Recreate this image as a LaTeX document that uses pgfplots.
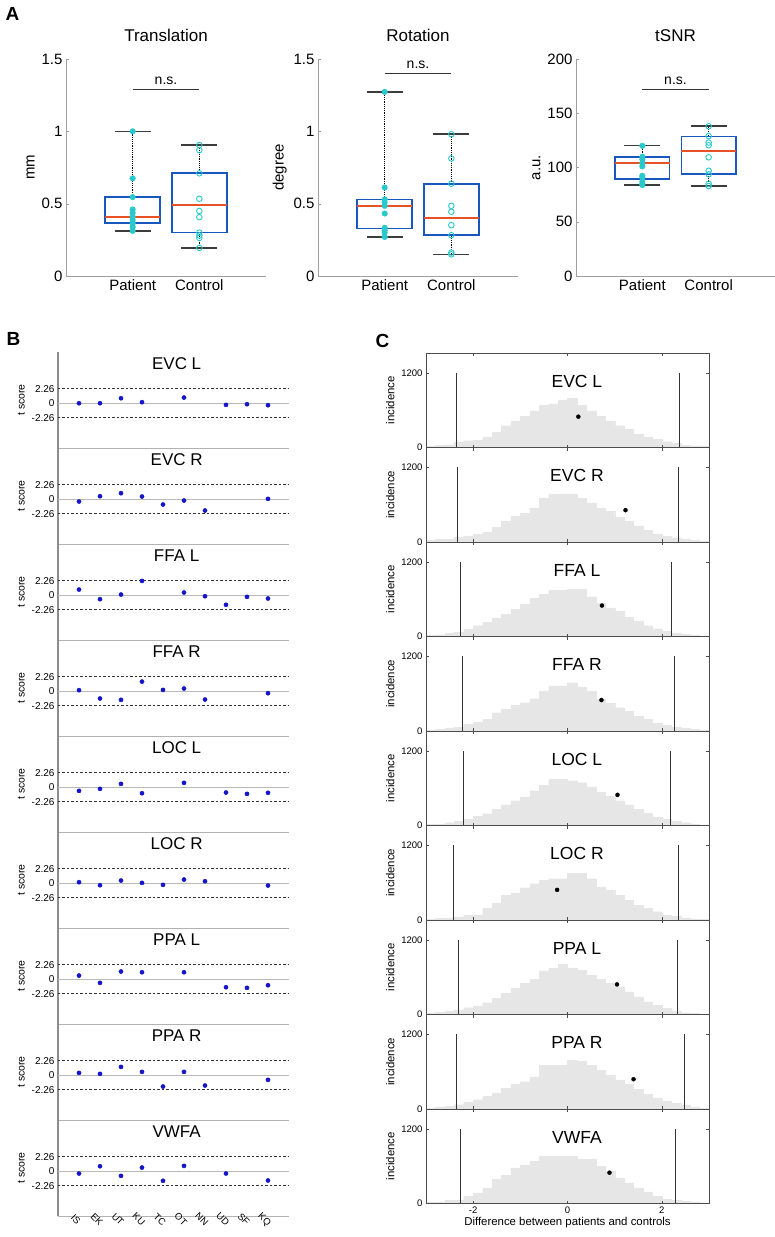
\documentclass[border=0pt]{standalone}
\usepackage{fontspec}
\setmainfont{Liberation Sans}
\usepackage{pgfplots}
\usepackage{pgfplotstable}
\pgfplotsset{compat=1.18}

\definecolor{boxblue}{RGB}{24,88,190}
\definecolor{medred}{RGB}{232,80,40}
\definecolor{dotcyan}{RGB}{40,200,205}
\definecolor{ptblue}{RGB}{20,20,200}
\definecolor{histgray}{RGB}{230,230,230}
\definecolor{capgray}{RGB}{60,60,60}

% permutation histograms, bins of 0.2 from -3 to 3 (last row repeats)
\pgfplotstableread{
x    evcl evcr ffal ffar locl locr ppal ppar vwfa
-3.0 20   25   15   20   15   15   20   15   15
-2.8 35   40   30   30   25   25   35   25   25
-2.6 45   50   50   50   45   35   55   45   50
-2.4 90   80   70   60   65   50   75   70   60
-2.2 110  100  120  110  100  80   110  110  118
-2.0 120  120  175  140  150  80   140  150  170
-1.8 170  160  230  190  190  185  190  200  250
-1.6 240  240  300  295  260  265  260  260  385
-1.4 350  340  355  350  330  400  340  330  450
-1.2 430  410  435  420  400  437  420  400  573
-1.0 500  470  515  455  460  520  500  440  620
-0.8 590  550  620  520  560  585  565  515  680
-0.6 680  710  675  643  650  640  700  705  760
-0.4 700  765  745  725  740  665  740  705  760
-0.2 765  775  745  725  740  665  812  705  760
0.0  790  775  755  777  720  747  750  785  760
0.2  680  700  755  700  690  747  715  770  718
0.4  590  630  640  643  620  665  635  700  718
0.6  500  550  540  510  530  533  565  620  600
0.8  420  490  460  445  470  480  510  545  520
1.0  350  395  405  375  400  400  445  470  413
1.2  290  340  315  320  330  320  365  400  332
1.4  220  260  245  240  260  240  285  320  250
1.6  170  185  175  190  200  185  205  240  188
1.8  130  130  125  125  140  133  150  180  118
2.0  95   90   85   90   100  80   97   130  75
2.2  70   60   60   65   70   55   60   90   50
2.4  40   50   40   45   45   35   30   55   32
2.6  25   30   20   25   25   20   18   30   25
2.8  15   20   8    15   12   10   10   15   10
3.0  15   20   8    15   12   10   10   15   10
}\histtab

\pgfplotsset{
  bpwhisk/.style={black, densely dotted, line width=1.2pt},
  bpcap/.style={capgray, line width=1.6pt},
  bpbox/.style={boxblue, line width=1.7pt, line join=miter},
  bpmed/.style={medred, line width=1.7pt},
  pdot/.style={only marks, mark=*, mark size=2.8pt, draw=dotcyan, fill=dotcyan},
  cdot/.style={only marks, mark=o, mark size=2.8pt, mark options={line width=0.9pt}, draw=dotcyan},
  Aax/.style={anchor=south west, scale only axis, width=200pt, height=217pt,
    xmin=0, xmax=3, ymin=0,
    axis x line=bottom, axis y line=left,
    axis line style={-, draw=gray!75, line width=0.7pt},
    xtick={1,2}, xticklabels={Patient,Control}, xtick style={draw=none},
    ytick style={draw=gray!75}, tick align=inside, major tick length=3pt,
    tick label style={font=\fontsize{15}{18}\selectfont},
    ylabel style={font=\fontsize{15}{18}\selectfont},
    title style={at={(0.5,1)}, anchor=base, yshift=12pt, font=\fontsize{17}{20}\selectfont},
    clip=false},
  Bax/.style={anchor=south west, scale only axis, width=231pt, height=96pt,
    xmin=0, xmax=11, ymin=-7, ymax=8,
    axis x line=bottom, axis y line=left,
    x axis line style={-, draw=gray!60, line width=0.9pt},
    y axis line style={-, draw=gray!90, line width=1.5pt},
    xtick=\empty, ytick={-2.26,0,2.26}, yticklabels={-2.26,0,2.26},
    major tick length=0pt,
    tick label style={font=\fontsize{10}{12}\selectfont},
    ylabel={t score}, ylabel style={font=\fontsize{10.5}{12}\selectfont},
    clip=false},
  Cax/.style={anchor=south west, scale only axis, width=283pt, height=94.5pt,
    xmin=-3, xmax=3, ymin=0, ymax=1520,
    xtick={-2,0,2}, xticklabels={}, ytick={0,1200}, yticklabels={0,1200},
    tick align=inside, major tick length=3pt,
    axis line style={draw=black!70, line width=0.7pt},
    tick style={draw=black!70, line width=0.6pt},
    tick label style={font=\fontsize{9.5}{11}\selectfont},
    ylabel={incidence}, ylabel style={font=\fontsize{11.4}{13}\selectfont},
    axis on top, clip=false},
}

% box plot at x=1 (patient) and x=2 (control): lo, q1, median, q3, hi
\newcommand{\boxP}[5]{%
  \addplot[bpwhisk] coordinates {(1,#4)(1,#5)};
  \addplot[bpwhisk] coordinates {(1,#1)(1,#2)};
  \addplot[bpcap] coordinates {(0.73,#5)(1.27,#5)};
  \addplot[bpcap] coordinates {(0.73,#1)(1.27,#1)};
  \addplot[bpbox] coordinates {(0.59,#2)(1.41,#2)(1.41,#4)(0.59,#4)} -- cycle;
  \addplot[bpmed] coordinates {(0.59,#3)(1.41,#3)};
}
\newcommand{\boxC}[5]{%
  \addplot[bpwhisk] coordinates {(2,#4)(2,#5)};
  \addplot[bpwhisk] coordinates {(2,#1)(2,#2)};
  \addplot[bpcap] coordinates {(1.73,#5)(2.27,#5)};
  \addplot[bpcap] coordinates {(1.73,#1)(2.27,#1)};
  \addplot[bpbox] coordinates {(1.59,#2)(2.41,#2)(2.41,#4)(1.59,#4)} -- cycle;
  \addplot[bpmed] coordinates {(1.59,#3)(2.41,#3)};
}

% panel B row: [extra options]{bottom}{title}{t scores}
\newcommand{\Brow}[4][]{%
\begin{axis}[Bax, at={(58pt,-#2pt)}, #1]
  \addplot[gray!55, line width=0.7pt] coordinates {(0,0)(11,0)};
  \addplot[black!80, line width=0.7pt, dash pattern=on 2.5pt off 2pt] coordinates {(0,2.26)(11,2.26)};
  \addplot[black!80, line width=0.7pt, dash pattern=on 2.5pt off 2pt] coordinates {(0,-2.26)(11,-2.26)};
  \addplot[only marks, mark=*, mark size=2.1pt, color=ptblue] coordinates {#4};
  \node[anchor=base, font=\fontsize{17}{20}\selectfont] at (axis cs:5.65,5.19) {#3};
\end{axis}}

% panel C row: [extra options]{bottom}{title}{column}{left}{right}{observed}
\newcommand{\Crow}[7][]{%
\begin{axis}[Cax, at={(426pt,-#2pt)}, #1]
  \addplot[ybar interval, fill=histgray, draw=histgray, line width=0.2pt] table[x=x, y=#4] {\histtab};
  \addplot[black!80, line width=0.8pt] coordinates {(#5,0)(#5,1200)};
  \addplot[black!80, line width=0.8pt] coordinates {(#6,0)(#6,1200)};
  \addplot[only marks, mark=*, mark size=2pt, black] coordinates {#7};
  \node[anchor=base, font=\fontsize{17.5}{20}\selectfont] at (axis cs:0.2,973) {#3};
\end{axis}}

\begin{document}
\begin{tikzpicture}
\useasboundingbox (0,0) rectangle (775pt,-1237pt);

\node[anchor=base west, font=\fontsize{19}{22}\selectfont\bfseries] at (2pt,-20pt) {A};
\node[anchor=base west, font=\fontsize{19}{22}\selectfont\bfseries] at (3pt,-345pt) {B};
\node[anchor=base west, font=\fontsize{19}{22}\selectfont\bfseries] at (372pt,-347pt) {C};

% ---- A: Translation
\begin{axis}[Aax, at={(66pt,-276pt)}, ymax=1.5, ytick={0,0.5,1,1.5}, yticklabels={0,0.5,1,1.5},
  ylabel={mm}, title={Translation}]
  \boxP{0.312}{0.367}{0.41}{0.545}{1.0}
  \boxC{0.194}{0.300}{0.492}{0.714}{0.904}
  \addplot[pdot] coordinates {(1,1.0)(1,0.675)(1,0.545)(1,0.46)(1,0.437)(1,0.41)(1,0.386)(1,0.363)(1,0.34)(1,0.312)};
  \addplot[cdot] coordinates {(2,0.905)(2,0.87)(2,0.71)(2,0.534)(2,0.45)(2,0.407)(2,0.30)(2,0.28)(2,0.263)(2,0.194)};
  \addplot[black!80, line width=1pt] coordinates {(1,1.287)(2,1.287)};
  \node[anchor=base, font=\fontsize{14}{16}\selectfont] at (axis cs:1.5,1.287) [yshift=5pt] {n.s.};
\end{axis}

% ---- A: Rotation
\begin{axis}[Aax, at={(318pt,-276pt)}, ymax=1.5, ytick={0,0.5,1,1.5}, yticklabels={0,0.5,1,1.5},
  ylabel={degree}, title={Rotation}]
  \boxP{0.268}{0.328}{0.483}{0.529}{1.273}
  \boxC{0.150}{0.282}{0.40}{0.638}{0.98}
  \addplot[pdot] coordinates {(1,1.273)(1,0.612)(1,0.529)(1,0.508)(1,0.485)(1,0.432)(1,0.333)(1,0.315)(1,0.30)(1,0.27)};
  \addplot[cdot] coordinates {(2,0.98)(2,0.813)(2,0.638)(2,0.485)(2,0.444)(2,0.351)(2,0.282)(2,0.162)(2,0.150)};
  \addplot[black!80, line width=1pt] coordinates {(1,1.398)(2,1.398)};
  \node[anchor=base, font=\fontsize{14}{16}\selectfont] at (axis cs:1.5,1.398) [yshift=5pt] {n.s.};
\end{axis}

% ---- A: tSNR
\begin{axis}[Aax, at={(576pt,-276pt)}, width=199pt, ymax=200, ytick={0,50,100,150,200},
  yticklabels={0,50,100,150,200}, ylabel={a.u.}, title={tSNR}]
  \boxP{83.8}{89.1}{103.9}{109.7}{120.2}
  \boxC{82.9}{94.3}{115}{128.5}{138.4}
  \addplot[pdot] coordinates {(1,120)(1,110)(1,107.5)(1,104)(1,101)(1,92.4)(1,90.6)(1,86.9)(1,85)(1,83.8)};
  \addplot[cdot] coordinates {(2,138)(2,129)(2,123)(2,120.5)(2,109.4)(2,97)(2,93.7)(2,85)(2,82.9)};
  \addplot[black!80, line width=1pt] coordinates {(1,171.6)(2,171.6)};
  \node[anchor=base, font=\fontsize{14}{16}\selectfont] at (axis cs:1.5,171.6) [yshift=5pt] {n.s.};
\end{axis}

% ---- B: t scores per patient
\Brow{448}{EVC L}{(1,0)(2,0)(3,0.78)(4,0.16)(6,0.88)(8,-0.26)(9,-0.16)(10,-0.31)}
\Brow{544}{EVC R}{(1,-0.36)(2,0.47)(3,0.94)(4,0.42)(5,-0.83)(6,-0.21)(7,-1.77)(10,0.05)}
\Brow{640}{FFA L}{(1,0.88)(2,-0.62)(3,0.1)(4,2.23)(6,0.42)(7,-0.16)(8,-1.5)(9,-0.26)(10,-0.52)}
\Brow{736}{FFA R}{(1,0.16)(2,-1.14)(3,-1.35)(4,1.5)(5,0.2)(6,0.42)(7,-1.3)(10,-0.31)}
\Brow{832}{LOC L}{(1,-0.57)(2,-0.26)(3,0.52)(4,-0.94)(6,0.68)(8,-0.83)(9,-1.04)(10,-0.88)}
\Brow{928}{LOC R}{(1,0.16)(2,-0.31)(3,0.42)(4,0.05)(5,-0.26)(6,0.57)(7,0.31)(10,-0.36)}
\Brow{1024}{PPA L}{(1,0.57)(2,-0.57)(3,1.2)(4,1.09)(6,1.09)(8,-1.25)(9,-1.35)(10,-0.94)}
\Brow{1120}{PPA R}{(1,0.36)(2,0.21)(3,1.3)(4,0.52)(5,-1.77)(6,0.52)(7,-1.61)(10,-0.73)}
\Brow[xtick={1,2,3,4,5,6,7,8,9,10}, xticklabels={IS,EK,UT,KU,TC,OT,NN,UD,SF,KQ},
  xticklabel style={rotate=-45, anchor=north, inner sep=1pt, font=\fontsize{9.5}{11}\selectfont}]
  {1216}{VWFA}{(1,-0.36)(2,0.78)(3,-0.73)(4,0.57)(5,-1.5)(6,0.83)(8,-0.36)(10,-1.45)}

% ---- C: permutation distributions
\Crow{447.5}{EVC L}{evcl}{-2.35}{2.37}{(0.23,496)}
\Crow{542}{EVC R}{evcr}{-2.34}{2.35}{(1.23,512)}
\Crow{636.5}{FFA L}{ffal}{-2.27}{2.21}{(0.73,498)}
\Crow{731}{FFA R}{ffar}{-2.22}{2.26}{(0.72,498)}
\Crow{825.5}{LOC L}{locl}{-2.21}{2.19}{(1.06,493)}
\Crow{920}{LOC R}{locr}{-2.41}{2.35}{(-0.22,485)}
\Crow{1014.5}{PPA L}{ppal}{-2.31}{2.34}{(1.05,484)}
\Crow{1109}{PPA R}{ppar}{-2.35}{2.48}{(1.40,479)}
\Crow[xticklabels={-2,0,2}, xlabel={Difference between patients and controls},
  xlabel style={font=\fontsize{11.4}{13}\selectfont, yshift=3pt}]
  {1203.5}{VWFA}{vwfa}{-2.27}{2.28}{(0.89,496)}

\end{tikzpicture}
\end{document}
